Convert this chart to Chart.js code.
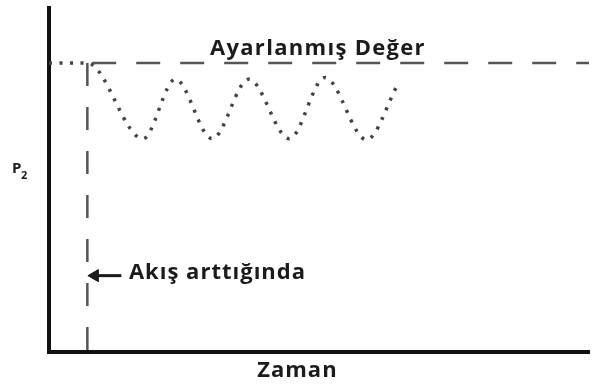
<!DOCTYPE html>
<html>
<head>
<meta charset="utf-8">
<script src="https://cdn.jsdelivr.net/npm/chart.js@4"></script>
<style>
  html, body { margin: 0; padding: 0; background: #fff; }
  #wrap { width: 597px; height: 388px; }
</style>
</head>
<body>
<div id="wrap"><canvas id="grafik"></canvas></div>
<script>
// eksenler 0-100 arası birimsiz (zaman / P2)
const ayarDegeri = 84;
const akisZamani = 7.1;

// salınım: ayar değerinden başlayıp dip ve tepe noktaları
const salinimZaman = [0, 7.1, 17.4, 23.4, 30.2, 37.0, 44.5, 51.1, 58.8, 64.5];
const salinimP2    = [84, 84, 62, 79.3, 62, 79.3, 62, 79.8, 61.7, 77.5];

// ayar değeri çizgisi ve akış anı çizgisi
const ayarZaman = [8, 100];
const akisP2 = [84, 0];

// ok: metinden akış çizgisine
const okZaman = [13.4, 8.5];
const okP2 = 22.2;

const yazi = '#1b1b1b';
const font = '"Open Sans", Lato, sans-serif';

const etiketler = {
  id: 'etiketler',
  afterDatasetsDraw(chart) {
    const { ctx, scales: { x, y } } = chart;
    ctx.save();
    ctx.fillStyle = yazi;
    ctx.textBaseline = 'alphabetic';

    // ayar değeri başlığı
    ctx.font = `bold 22px ${font}`;
    ctx.letterSpacing = '1.3px';
    ctx.textAlign = 'center';
    ctx.fillText('Ayarlanmış Değer', x.getPixelForValue(49.8), y.getPixelForValue(ayarDegeri) - 8);

    // ok yanındaki açıklama
    ctx.letterSpacing = '1px';
    ctx.textAlign = 'left';
    ctx.fillText('Akış arttığında', x.getPixelForValue(14.8), y.getPixelForValue(okP2) + 3);

    // x ekseni başlığı
    ctx.textAlign = 'center';
    ctx.fillText('Zaman', x.getPixelForValue(46), chart.chartArea.bottom + 25);

    // y ekseni başlığı: P₂
    ctx.letterSpacing = '0px';
    ctx.textAlign = 'left';
    ctx.font = `bold 15px ${font}`;
    ctx.fillText('P', 12, 173);
    ctx.font = `bold 11px ${font}`;
    ctx.fillText('2', 21, 179);
    ctx.restore();
  }
};

new Chart(document.getElementById('grafik'), {
  type: 'line',
  data: {
    datasets: [
      {
        label: 'Ayarlanmış Değer',
        data: ayarZaman.map(t => ({ x: t, y: ayarDegeri })),
        borderColor: '#555',
        borderWidth: 2.5,
        borderDash: [24, 20],
        pointRadius: 0
      },
      {
        label: 'Akış arttığında',
        data: akisP2.map(v => ({ x: akisZamani, y: v })),
        borderColor: '#555',
        borderWidth: 2.5,
        borderDash: [23, 21],
        pointRadius: 0
      },
      {
        label: 'P2',
        data: salinimZaman.map((t, i) => ({ x: t, y: salinimP2[i] })),
        borderColor: '#444',
        borderWidth: 3.5,
        borderDash: [3, 7.5],
        cubicInterpolationMode: 'monotone',
        pointRadius: 0
      },
      {
        label: 'ok',
        data: okZaman.map(t => ({ x: t, y: okP2 })),
        borderColor: '#1b1b1b',
        backgroundColor: '#1b1b1b',
        borderWidth: 3,
        pointStyle: 'triangle',
        pointRotation: -90,
        pointRadius: [0, 7],
        pointBorderWidth: 1
      }
    ]
  },
  options: {
    responsive: true,
    maintainAspectRatio: false,
    animation: false,
    layout: { padding: { left: 49, right: 2, top: 5, bottom: 36 } },
    plugins: { legend: { display: false }, tooltip: { enabled: false } },
    scales: {
      x: {
        type: 'linear', min: 0, max: 100,
        ticks: { display: false },
        grid: { display: false, drawTicks: false },
        border: { display: true, color: '#111', width: 4 }
      },
      y: {
        type: 'linear', min: 0, max: 100,
        ticks: { display: false },
        grid: { display: false, drawTicks: false },
        border: { display: true, color: '#111', width: 4 }
      }
    }
  },
  plugins: [etiketler]
});
</script>
</body>
</html>
